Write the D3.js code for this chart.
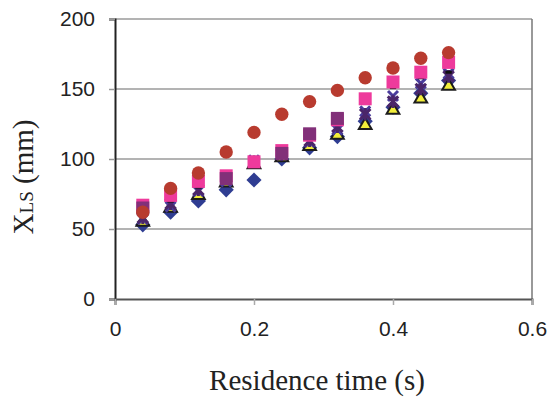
<!DOCTYPE html>
<html>
<head>
<meta charset="utf-8">
<script src="https://cdn.jsdelivr.net/npm/d3@7"></script>
<style>
  body { margin: 0; background: #fff; }
  svg { display: block; }
  .tick text { font-family: "Liberation Sans", Arial, sans-serif; font-size: 21px; fill: #222; }
  .title { font-family: "Liberation Serif", "Times New Roman", serif; font-size: 29px; fill: #222; }
</style>
</head>
<body>
<svg id="chart" width="548" height="401"></svg>
<script>
// residence time (s)
const times = [0.04, 0.08, 0.12, 0.16, 0.20, 0.24, 0.28, 0.32, 0.36, 0.40, 0.44, 0.48]

// X_LS (mm), one list per run
const pinkSquares = [67, 74, 84, 88, 98, 106, 117, 128, 143, 155, 162, 169]
const plumSquares = [65, null, null, 86, null, 104, 118, 129, null, null, null, null]
const diamonds    = [53, 62, 70, 78, 85, 100, 108, 116, 127, 137, 147, 156]
const crosses     = [57, 66, 77, 84, 99, 104, 112, 121, 134, 145, 154, 161]
const stars       = [58, 68, 78, 87, 98, 103, 113, 123, 132, 141, 150, 159]
const triangles   = [55, 65, 74, 83, 96, 101, 109, 117, 124, 135, 143, 152]
const dashes      = [60, 70, 80, 89, 99, 106, 116, 126, 140, 151, 158, 162]
const circles     = [62, 79, 90, 105, 119, 132, 141, 149, 158, 165, 172, 176]

const xTicks = [0, 0.2, 0.4, 0.6]
const yTicks = [0, 50, 100, 150, 200]

// custom marker shapes
const diamondSym = { draw(ctx, size) { const r = Math.sqrt(size / 2); ctx.moveTo(0, -r); ctx.lineTo(r, 0); ctx.lineTo(0, r); ctx.lineTo(-r, 0); ctx.closePath() } }
const xSym = { draw(ctx, size) { const r = Math.sqrt(size) / 2; ctx.moveTo(-r, -r); ctx.lineTo(r, r); ctx.moveTo(r, -r); ctx.lineTo(-r, r) } }
const starSym = { draw(ctx, size) { const r = Math.sqrt(size) / 2; ctx.moveTo(-r, -r); ctx.lineTo(r, r); ctx.moveTo(r, -r); ctx.lineTo(-r, r); ctx.moveTo(0, -r * 1.2); ctx.lineTo(0, r * 1.2) } }
const dashSym = { draw(ctx, size) { const r = Math.sqrt(size) / 2; ctx.moveTo(-r, 0); ctx.lineTo(r, 0) } }

// drawn in this order, last on top
const series = [
  { values: diamonds,    type: diamondSym,      size: 115, fill: '#2f3d92', stroke: 'none' },
  { values: triangles,   type: d3.symbolTriangle, size: 70, fill: '#f2ee3a', stroke: '#1c1c1c', sw: 2 },
  { values: crosses,     type: xSym,            size: 100, fill: 'none', stroke: '#4a3c9c', sw: 3 },
  { values: stars,       type: starSym,         size: 110, fill: 'none', stroke: '#4b2669', sw: 3 },
  { values: dashes,      type: dashSym,         size: 40, fill: 'none', stroke: '#111', sw: 3 },
  { values: pinkSquares, type: d3.symbolSquare, size: 169, fill: '#ee3a9c', stroke: 'none' },
  { values: plumSquares, type: d3.symbolSquare, size: 169, fill: '#823079', stroke: 'none' },
  { values: circles,     type: d3.symbolCircle, size: 140, fill: '#b83b2f', stroke: 'none' }
]

const svg = d3.select('#chart')
const x = d3.scaleLinear().domain([0, 0.6]).range([115, 532])
const y = d3.scaleLinear().domain([0, 200]).range([299, 19])

// gridlines
svg.append('g')
  .selectAll('line')
  .data(yTicks.slice(1))
  .join('line')
  .attr('x1', x(0)).attr('x2', x(0.6))
  .attr('y1', d => y(d)).attr('y2', d => y(d))
  .attr('stroke', '#9a9a9a')
  .attr('stroke-width', 1.5)

// right border
svg.append('line')
  .attr('x1', x(0.6)).attr('x2', x(0.6))
  .attr('y1', y(0)).attr('y2', y(200))
  .attr('stroke', '#777')
  .attr('stroke-width', 1.5)

const yAxis = svg.append('g')
  .attr('transform', `translate(${x(0)},0)`)
  .call(d3.axisLeft(y).tickValues(yTicks).tickSize(6).tickPadding(14))
yAxis.select('.domain').attr('stroke', '#222').attr('stroke-width', 2)
yAxis.selectAll('.tick line').attr('stroke', '#999').attr('stroke-width', 1.5)

const xAxis = svg.append('g')
  .attr('transform', `translate(0,${y(0)})`)
  .call(d3.axisBottom(x).tickValues(xTicks).tickFormat(d3.format('~g')).tickSize(6).tickPadding(16))
xAxis.select('.domain').attr('stroke', '#555').attr('stroke-width', 2)
xAxis.selectAll('.tick line').attr('stroke', '#aaa').attr('stroke-width', 1.5)

// markers
series.forEach(s => {
  const pts = times.map((t, i) => ({ t, v: s.values[i] })).filter(d => d.v != null)
  svg.append('g')
    .selectAll('path')
    .data(pts)
    .join('path')
    .attr('d', d3.symbol(s.type, s.size))
    .attr('transform', d => `translate(${x(d.t)},${y(d.v)})`)
    .attr('fill', s.fill)
    .attr('stroke', s.stroke)
    .attr('stroke-width', s.sw || 0)
})

// axis titles
svg.append('text')
  .attr('class', 'title')
  .attr('x', 317).attr('y', 390)
  .attr('text-anchor', 'middle')
  .text('Residence time (s)')

const yt = svg.append('text')
  .attr('class', 'title')
  .attr('transform', 'translate(33,177) rotate(-90)')
  .attr('text-anchor', 'middle')
yt.append('tspan').text('X')
yt.append('tspan').attr('font-size', '19px').text('LS')
yt.append('tspan').text(' (mm)')
</script>
</body>
</html>
